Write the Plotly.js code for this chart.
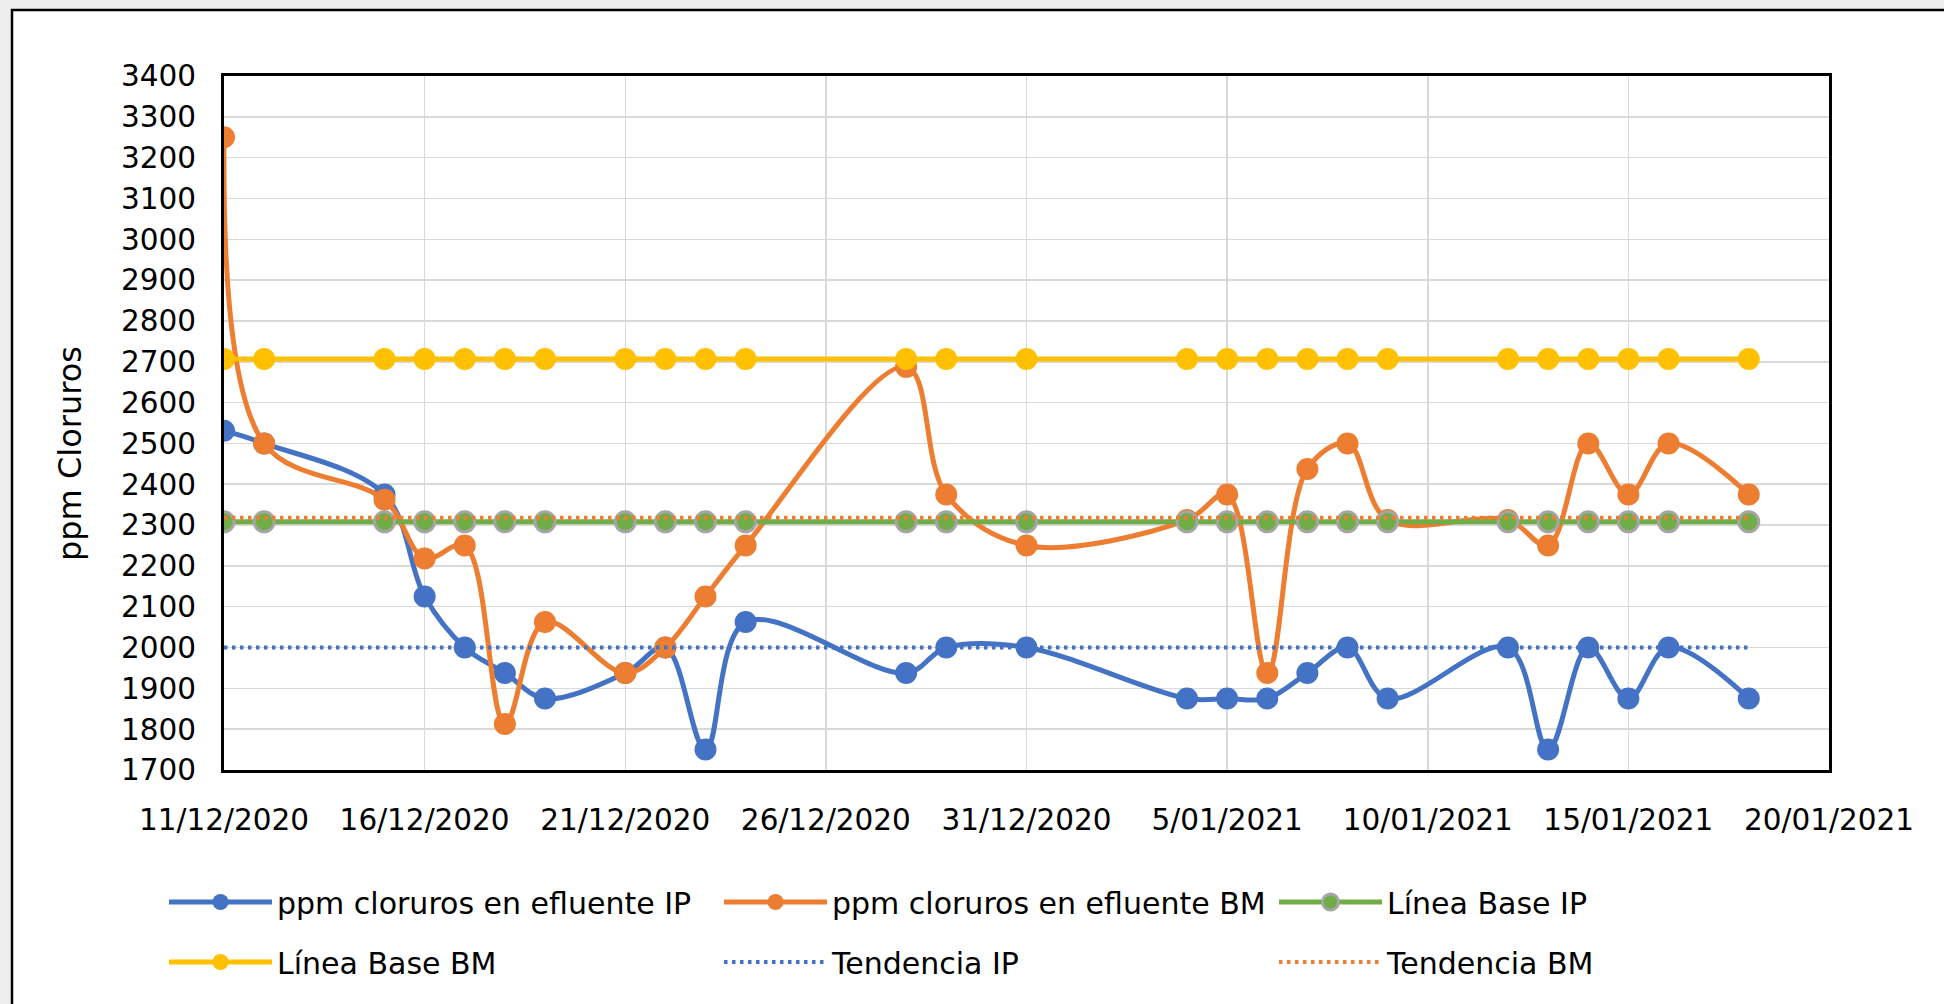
<!DOCTYPE html>
<html>
<head>
<meta charset="utf-8">
<script src="https://cdn.plot.ly/plotly-3.0.1.min.js"></script>
<style>
  html, body { margin: 0; padding: 0; background: #eeeeee; }
  #chart { width: 1944px; height: 1004px; }
</style>
</head>
<body>
<div id="chart"></div>
<script>
// ---- data ----
const dates = ['2020-12-11','2020-12-12','2020-12-15','2020-12-16','2020-12-17','2020-12-18','2020-12-19',
  '2020-12-21','2020-12-22','2020-12-23','2020-12-24','2020-12-28','2020-12-29','2020-12-31',
  '2021-01-04','2021-01-05','2021-01-06','2021-01-07','2021-01-08','2021-01-09',
  '2021-01-12','2021-01-13','2021-01-14','2021-01-15','2021-01-16','2021-01-18'];
const ipValues = [2531, 2500, 2375, 2125, 2000, 1937.5, 1875, 1937.5, 2000, 1750, 2062.5, 1937.5, 2000, 2000,
  1875, 1875, 1875, 1937.5, 2000, 1875, 2000, 1750, 2000, 1875, 2000, 1875];
const bmValues = [3250, 2500, 2362, 2218, 2250, 1812.5, 2062.5, 1937.5, 2000, 2125, 2250, 2687.5, 2375, 2250,
  2312.5, 2375, 1937.5, 2437.5, 2500, 2312.5, 2312.5, 2250, 2500, 2375, 2500, 2375];
const baseIP = [2308, 2308, 2308, 2308, 2308, 2308, 2308, 2308, 2308, 2308, 2308, 2308, 2308, 2308,
  2308, 2308, 2308, 2308, 2308, 2308, 2308, 2308, 2308, 2308, 2308, 2308];
const baseBM = [2707, 2707, 2707, 2707, 2707, 2707, 2707, 2707, 2707, 2707, 2707, 2707, 2707, 2707,
  2707, 2707, 2707, 2707, 2707, 2707, 2707, 2707, 2707, 2707, 2707, 2707];
const trendDates = ['2020-12-11', '2021-01-18'];
const trendIP = [2000, 2000];
const trendBM = [2318, 2318];
const seriesNames = ['ppm cloruros en efluente IP', 'ppm cloruros en efluente BM', 'Línea Base IP',
  'Línea Base BM', 'Tendencia IP', 'Tendencia BM'];
const yTitle = 'ppm Cloruros';

// ---- styling ----
const FONT = 'DejaVu Sans';
const C_BLUE = '#4472C4', C_ORANGE = '#ED7D31', C_GREEN = '#70AD47', C_YELLOW = '#FFC000', C_GRAY = '#A5A5A5';
const W = 1944, H = 1004;
const M = {l: 224, r: 115, t: 76, b: 234, autoexpand: false};
const PW = W - M.l - M.r, PH = H - M.t - M.b;
const px2x = px => (px - M.l) / PW;
const py2y = py => (M.t + PH - py) / PH;

const traces = [
  {x: dates, y: ipValues, name: seriesNames[0], type: 'scatter', mode: 'lines+markers',
   line: {color: C_BLUE, width: 5, shape: 'spline', smoothing: 1},
   marker: {color: C_BLUE, size: 22}, legend: 'legend'},
  {x: dates, y: bmValues, name: seriesNames[1], type: 'scatter', mode: 'lines+markers',
   line: {color: C_ORANGE, width: 5, shape: 'spline', smoothing: 1},
   marker: {color: C_ORANGE, size: 22}, legend: 'legend'},
  {x: dates, y: baseIP, name: seriesNames[2], type: 'scatter', mode: 'lines+markers',
   line: {color: C_GREEN, width: 5},
   marker: {color: C_GREEN, size: 20, line: {color: C_GRAY, width: 3}}, legend: 'legend'},
  {x: dates, y: baseBM, name: seriesNames[3], type: 'scatter', mode: 'lines+markers',
   line: {color: C_YELLOW, width: 5},
   marker: {color: C_YELLOW, size: 22}, legend: 'legend2'},
  {x: trendDates, y: trendIP, name: seriesNames[4], type: 'scatter', mode: 'lines',
   line: {color: C_BLUE, width: 4, dash: '3.5px,4.5px'}, legend: 'legend2'},
  {x: trendDates, y: trendBM, name: seriesNames[5], type: 'scatter', mode: 'lines',
   line: {color: C_ORANGE, width: 4, dash: '3.5px,4.5px'}, legend: 'legend2'}
];

const tickFont = {family: FONT, size: 29.5, color: '#000'};
const legendCommon = {
  orientation: 'h', xref: 'paper', yref: 'paper',
  xanchor: 'left', yanchor: 'middle',
  font: {family: FONT, size: 30, color: '#000'},
  itemwidth: 103, entrywidth: 437, entrywidthmode: 'pixels',
  bgcolor: 'rgba(0,0,0,0)', borderwidth: 0, traceorder: 'normal'
};

const layout = {
  width: W, height: H,
  margin: M,
  paper_bgcolor: '#eeeeee',
  plot_bgcolor: '#ffffff',
  font: {family: FONT, color: '#000'},
  showlegend: true,
  xaxis: {
    type: 'date', range: ['2020-12-11', '2021-01-20'],
    tick0: '2020-12-11', dtick: 5 * 86400000, tickformat: '%-d/%m/%Y',
    showgrid: true, gridcolor: '#D9D9D9', gridwidth: 1.5,
    showline: true, mirror: true, linecolor: '#000', linewidth: 3,
    ticks: '', zeroline: false, tickfont: tickFont, ticklabelstandoff: 22
  },
  yaxis: {
    range: [1700, 3400], tick0: 1700, dtick: 100,
    showgrid: true, gridcolor: '#D9D9D9', gridwidth: 1.5,
    showline: true, mirror: true, linecolor: '#000', linewidth: 3,
    ticks: '', zeroline: false, tickfont: tickFont, ticklabelstandoff: 19
  },
  legend: Object.assign({}, legendCommon, {x: px2x(164), y: py2y(902)}),
  legend2: Object.assign({}, legendCommon, {x: px2x(164), y: py2y(962)}),
  annotations: [{
    text: yTitle, textangle: -90, showarrow: false,
    xref: 'paper', yref: 'paper', x: px2x(70), y: py2y(454),
    xanchor: 'center', yanchor: 'middle',
    font: {family: FONT, size: 32, color: '#000'}
  }],
  shapes: [{
    type: 'rect', layer: 'below', xref: 'paper', yref: 'paper',
    x0: px2x(12), x1: px2x(W + 20), y0: py2y(H + 20), y1: py2y(10),
    fillcolor: '#ffffff', line: {color: '#000', width: 2.5}
  }]
};

Plotly.newPlot('chart', traces, layout, {displayModeBar: false, staticPlot: true});
</script>
</body>
</html>
